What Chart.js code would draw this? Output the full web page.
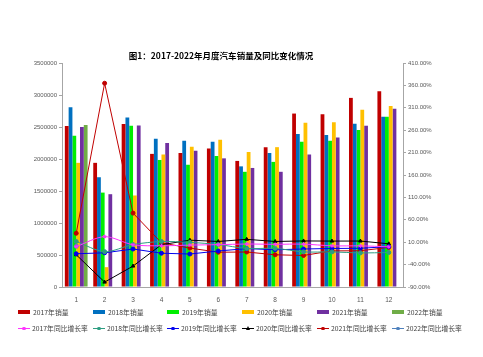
<!DOCTYPE html>
<html>
<head>
<meta charset="utf-8">
<script src="https://cdn.jsdelivr.net/npm/chart.js@4/dist/chart.umd.min.js"></script>
<style>
  html,body{margin:0;padding:0;background:#fff;}
  #wrap{position:relative;width:483px;height:357px;overflow:hidden;font-family:"Noto Sans CJK SC","Noto Sans",sans-serif;}
  #title{position:absolute;left:0;width:442px;top:49px;text-align:center;font-weight:bold;font-size:8.5px;color:#000;}
  .lg{position:absolute;font-size:6.8px;color:#404040;white-space:nowrap;line-height:10px;}
  .sw{position:absolute;left:0;}
</style>
</head>
<body>
<div id="wrap">
  <canvas id="c" width="483" height="357"></canvas>
  <div id="title">图1：2017-2022年月度汽车销量及同比变化情况</div>
  <div id="legend"></div>
</div>
<script>
const months = ["1","2","3","4","5","6","7","8","9","10","11","12"];
const salesNames = ["2017年销量","2018年销量","2019年销量","2020年销量","2021年销量","2022年销量"];
const rateNames = ["2017年同比增长率","2018年同比增长率","2019年同比增长率","2020年同比增长率","2021年同比增长率","2022年同比增长率"];

const sales2017 = [2515000,1940000,2545000,2080000,2095000,2165000,1970000,2185000,2710000,2700000,2955000,3060000];
const sales2018 = [2810000,1715000,2650000,2315000,2285000,2270000,1885000,2095000,2390000,2375000,2550000,2660000];
const sales2019 = [2365000,1475000,2520000,1985000,1910000,2045000,1800000,1955000,2270000,2285000,2455000,2660000];
const sales2020 = [1940000,310000,1430000,2070000,2190000,2300000,2110000,2185000,2565000,2575000,2770000,2830000];
const sales2021 = [2500000,1450000,2525000,2250000,2130000,2010000,1860000,1800000,2070000,2335000,2520000,2785000];
const sales2022 = [2530000,null,null,null,null,null,null,null,null,null,null,null];

const rate2017 = [0.2,22.4,4.3,2.0,3.5,4.5,5.9,5.3,5.7,1.9,1.8,-0.3];
const rate2018 = [11.6,-11.1,4.7,11.5,9.6,4.8,-4.0,-3.8,-11.6,-11.7,-13.9,-13.0];
const rate2019 = [-15.8,-13.7,-5.2,-14.6,-16.4,-9.6,-4.3,-6.9,-5.2,-4.0,-3.6,0.1];
const rate2020 = [-18.0,-79.1,-43.3,4.4,14.5,11.6,16.4,11.6,12.8,12.5,12.6,6.4];
const rate2021 = [29.9,364.8,74.9,8.6,-3.1,-12.4,-11.9,-18.1,-19.6,-9.4,-9.1,-1.6];
const rate2022 = [0.9,null,null,null,null,null,null,null,null,null,null,null];

const leftTicks = {min:0,max:3500000,step:500000};
const rightTicks = {min:-90,max:410,step:50};

const barColors = ["#C00000","#0070C0","#00EE00","#FFC000","#7030A0","#70AD47"];
const lineColors = ["#FF33FF","#2E9E82","#0000EE","#000000","#C00000","#4F81BD"];
const pointStyles = ["star","circle","circle","triangle","circle","circle"];

const salesData = [sales2017,sales2018,sales2019,sales2020,sales2021,sales2022];
const rateData = [rate2017,rate2018,rate2019,rate2020,rate2021,rate2022];

const datasets = [];
salesData.forEach((d,i)=>{
  datasets.push({type:'bar',label:salesNames[i],data:d,backgroundColor:barColors[i],yAxisID:'y',order:2,
    categoryPercentage:0.8,barPercentage:1.0});
});
rateData.forEach((d,i)=>{
  datasets.push({type:'line',label:rateNames[i],data:d,borderColor:lineColors[i],backgroundColor:lineColors[i],
    borderWidth:1,pointRadius:2,pointStyle:pointStyles[i],pointBorderWidth:1,tension:(i<2?0.3:0),yAxisID:'y1',order:1});
});

const axisColor = '#A6A6A6';
const tickColor = '#595959';
new Chart(document.getElementById('c'),{
  data:{labels:months,datasets:datasets},
  options:{
    responsive:false,animation:false,
    layout:{padding:{top:63,left:0,right:0,bottom:0}},
    plugins:{legend:{display:false},title:{display:false},tooltip:{enabled:false}},
    scales:{
      x:{offset:true,grid:{display:false},border:{display:true,color:axisColor},
        ticks:{font:{size:6.5,family:"Liberation Sans"},color:tickColor,padding:1,maxRotation:0},
        afterFit:s=>{s.height=70;}},
      y:{position:'left',min:leftTicks.min,max:leftTicks.max,
        ticks:{stepSize:leftTicks.step,font:{size:6,family:"Liberation Sans"},color:tickColor,padding:2,
          callback:v=>String(v)},
        grid:{drawOnChartArea:false,drawTicks:true,tickLength:3,color:axisColor},
        border:{display:true,color:axisColor},
        afterFit:s=>{s.width=62;}},
      y1:{position:'right',min:rightTicks.min,max:rightTicks.max,
        ticks:{stepSize:rightTicks.step,font:{size:6,family:"Liberation Sans"},color:tickColor,padding:2,
          callback:v=>v.toFixed(2)+'%'},
        grid:{drawOnChartArea:false,drawTicks:true,tickLength:3,color:axisColor},
        border:{display:true,color:axisColor},
        afterFit:s=>{s.width=80;}}
    }
  }
});

// HTML legend built from the dataset names/colours
const lg = document.getElementById('legend');
const colX = [18,93,167,242,317,392];
salesNames.forEach((n,i)=>{
  const d=document.createElement('div');d.className='lg';
  d.style.left=colX[i]+'px';d.style.top='307px';d.style.paddingLeft='15px';
  d.innerHTML='<span class="sw" style="top:3px;width:12px;height:4px;background:'+barColors[i]+'"></span>'+n;
  lg.appendChild(d);
});
rateNames.forEach((n,i)=>{
  const d=document.createElement('div');d.className='lg';
  d.style.left=colX[i]+'px';d.style.top='323px';d.style.paddingLeft='14px';
  let mk = pointStyles[i]==='triangle'
    ? '<span class="sw" style="left:4px;top:3px;width:0;height:0;border-left:2px solid transparent;border-right:2px solid transparent;border-bottom:4px solid '+lineColors[i]+'"></span>'
    : '<span class="sw" style="left:4px;top:3.5px;width:3.5px;height:3.5px;border-radius:50%;background:'+lineColors[i]+'"></span>';
  d.innerHTML='<span class="sw" style="top:5px;width:12px;height:1px;background:'+lineColors[i]+'"></span>'+mk+n;
  lg.appendChild(d);
});
</script>
</body>
</html>
